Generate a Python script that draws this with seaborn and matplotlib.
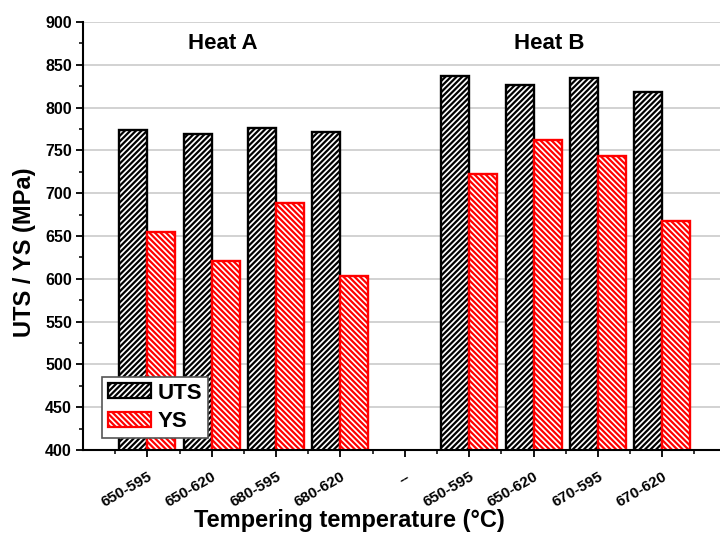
import matplotlib
matplotlib.use("Agg")
import matplotlib.pyplot as plt
from matplotlib.patches import Patch
from matplotlib.ticker import MultipleLocator, FixedLocator
from matplotlib.transforms import ScaledTranslation
import seaborn as sns
import pandas as pd

# Tempering conditions (two heats), with a spacer slot between the heats
slots = ["A1", "A2", "A3", "A4", "gap1", "B1", "B2", "B3", "B4", "gap2"]
tick_labels = ["650-595", "650-620", "680-595", "680-620", "--",
               "650-595", "650-620", "670-595", "670-620", "--"]
conditions = ["A1", "A2", "A3", "A4", "B1", "B2", "B3", "B4"]
uts = [774, 769, 776, 771, 837, 826, 834, 818]
ys = [655, 621, 688, 603, 723, 762, 743, 667]

df = pd.DataFrame({
    "cond": conditions * 2,
    "value": uts + ys,
    "prop": ["UTS"] * len(uts) + ["YS"] * len(ys),
})

sns.set_theme(style="white")
plt.rcParams["font.family"] = ["Liberation Sans", "DejaVu Sans"]
plt.rcParams["hatch.linewidth"] = 1.6
for key in ["text.color", "axes.labelcolor", "xtick.color", "ytick.color"]:
    plt.rcParams[key] = "black"

fig = plt.figure(figsize=(7.2, 5.34), dpi=100)
ax = fig.add_axes([83 / 720, 84 / 534, 708 / 720, 428 / 534])

sns.barplot(data=df, x="cond", y="value", hue="prop", order=slots,
            hue_order=["UTS", "YS"], width=0.87, dodge=True, ax=ax,
            legend=False, saturation=1)

styles = {0: ("black", "//////"), 1: ("red", "\\\\\\\\\\\\")}
for i, cont in enumerate(ax.containers):
    col, hatch = styles[i]
    for bar in cont:
        bar.set_facecolor("white")
        bar.set_edgecolor(col)
        bar.set_hatch(hatch)
        bar.set_linewidth(1.7)

ax.set_ylim(400, 900)
ax.set_xlim(-1, 10)
ax.yaxis.set_major_locator(MultipleLocator(50))
ax.yaxis.set_minor_locator(MultipleLocator(25))
ax.xaxis.set_major_locator(FixedLocator(range(len(slots))))
ax.xaxis.set_minor_locator(FixedLocator([i + 0.5 for i in range(-1, len(slots))]))
ax.set_xticklabels(tick_labels, rotation=30, ha="right", rotation_mode="anchor",
                   fontsize=11, fontweight="bold")
shift = ScaledTranslation(5 / 100, 0, fig.dpi_scale_trans)
for lab in ax.get_xticklabels():
    lab.set_transform(lab.get_transform() + shift)
for lab in ax.get_yticklabels():
    lab.set_fontweight("bold")
    lab.set_fontsize(11.5)

ax.grid(axis="y", color="#cfcfcf", linewidth=1.3)
ax.set_axisbelow(True)
for side in ["top", "right"]:
    ax.spines[side].set_visible(False)
for side in ["left", "bottom"]:
    ax.spines[side].set_color("black")
    ax.spines[side].set_linewidth(1.5)

ax.tick_params(axis="both", which="major", direction="out", length=5, width=1.3,
               color="black", bottom=True, left=True, pad=3)
ax.tick_params(axis="both", which="minor", direction="out", length=3, width=1.1,
               color="black", bottom=True, left=True)
ax.tick_params(axis="x", which="major", pad=9)

ax.set_xlabel("Tempering temperature (\u00b0C)", fontsize=17, fontweight="bold")
ax.xaxis.set_label_coords(0.376, -0.138)
ax.set_ylabel("UTS / YS (MPa)", fontsize=17, fontweight="bold")
ax.yaxis.set_label_coords(-0.067, 0.463)

ax.text(1.165, 875, "Heat A", fontsize=16, fontweight="bold", ha="center", va="center")
ax.text(6.24, 875, "Heat B", fontsize=16, fontweight="bold", ha="center", va="center")

handles = [Patch(facecolor="white", edgecolor="black", hatch="//////", linewidth=1.6),
           Patch(facecolor="white", edgecolor="red", hatch="\\\\\\\\\\\\", linewidth=1.6)]
leg = ax.legend(handles, ["UTS", "YS"], loc="lower left",
                bbox_to_anchor=(19 / 708, 12 / 428), fancybox=False,
                framealpha=1, edgecolor="#555555",
                prop={"weight": "bold", "size": 16}, handlelength=1.95,
                handleheight=0.65, handletextpad=0.3, borderpad=0.25,
                labelspacing=0.35, borderaxespad=0)
leg.get_frame().set_linewidth(1.2)

fig.savefig("out.png", dpi=100)
